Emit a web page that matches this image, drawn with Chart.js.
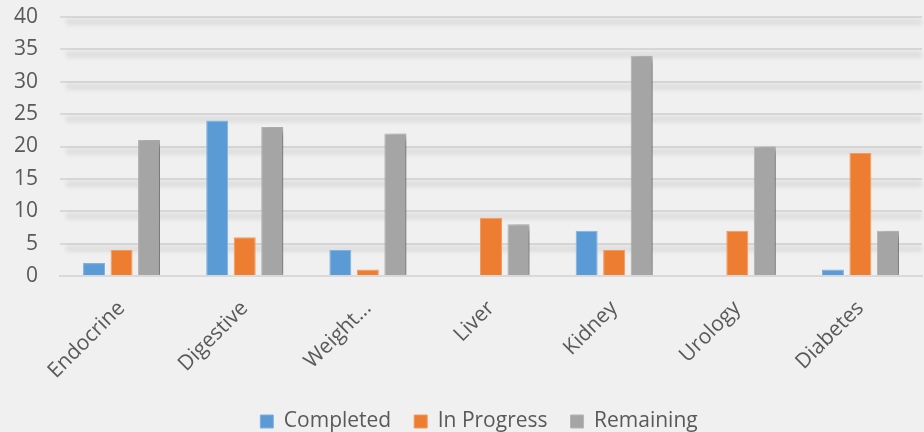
<!DOCTYPE html>
<html>
<head>
<meta charset="utf-8">
<script src="https://cdn.jsdelivr.net/npm/chart.js@4/dist/chart.umd.min.js"></script>
<style>
  html, body { margin: 0; padding: 0; background: #f0f0f0; }
  #wrap { width: 924px; height: 432px; }
</style>
</head>
<body>
<div id="wrap"><canvas id="chart"></canvas></div>
<script>
const categories = ['Endocrine', 'Digestive', 'Weight...', 'Liver', 'Kidney', 'Urology', 'Diabetes'];
const completed = [2, 24, 4, 0, 7, 0, 1];
const inProgress = [4, 6, 1, 9, 4, 7, 19];
const remaining = [21, 23, 22, 8, 34, 20, 7];
const yTicks = [0, 5, 10, 15, 20, 25, 30, 35, 40];

// soft shadow under each horizontal gridline, like the office chart style
const gridShadow = {
    id: 'gridShadow',
    beforeDatasetsDraw(chart) {
        const ctx = chart.ctx;
        const y = chart.scales.y;
        const area = chart.chartArea;
        ctx.save();
        ctx.strokeStyle = 'rgba(0,0,0,0.08)';
        ctx.lineWidth = 6;
        ctx.filter = 'blur(2px)';
        yTicks.forEach(function (t) {
            if (t === 0) return;
            const py = y.getPixelForValue(t) + 5;
            ctx.beginPath();
            ctx.moveTo(area.left + 6, py);
            ctx.lineTo(area.right, py);
            ctx.stroke();
        });
        ctx.restore();
    }
};

const barShadow = {
    id: 'barShadow',
    beforeDatasetDraw(chart, args) {
        if (args.index !== 2) return;
        const ctx = chart.ctx;
        ctx.save();
        ctx.shadowColor = 'rgba(0,0,0,0.4)';
        ctx.shadowBlur = 7;
        ctx.shadowOffsetX = 5;
        ctx.shadowOffsetY = 3;
    },
    afterDatasetDraw(chart, args) {
        if (args.index !== 2) return;
        chart.ctx.restore();
    }
};

// legend sits a little right of centre in the original
const legendNudge = {
    id: 'legendNudge',
    afterLayout(chart) {
        chart.legend.left += 18;
        chart.legend.right += 18;
    }
};

const fontFamily = '"Open Sans", "Liberation Sans", sans-serif';

new Chart(document.getElementById('chart').getContext('2d'), {
    type: 'bar',
    data: {
        labels: categories,
        datasets: [
            { label: 'Completed', data: completed, backgroundColor: '#5b9bd5', borderColor: '#7fb0e0', borderWidth: 1 },
            { label: 'In Progress', data: inProgress, backgroundColor: '#ed7d31', borderColor: '#f39a5c', borderWidth: 1 },
            { label: 'Remaining', data: remaining, backgroundColor: '#a5a5a5', borderColor: '#b5b5b5', borderWidth: 1 }
        ]
    },
    options: {
        responsive: true,
        maintainAspectRatio: false,
        animation: false,
        datasets: {
            bar: { categoryPercentage: 0.67, barPercentage: 0.8 }
        },
        layout: { padding: { left: 0, right: 2, top: 17, bottom: -10 } },
        plugins: {
            legend: {
                position: 'bottom',
                labels: {
                    boxWidth: 13,
                    boxHeight: 13,
                    color: '#595959',
                    font: { family: fontFamily, size: 21 },
                    padding: 23
                }
            },
            tooltip: { enabled: false }
        },
        scales: {
            x: {
                grid: { display: false },
                border: { display: true, color: '#d9d9d9', width: 2 },
                afterFit(scale) { scale.height = 112; },
                ticks: {
                    color: '#595959',
                    font: { family: fontFamily, size: 21 },
                    maxRotation: 45,
                    minRotation: 45,
                    autoSkip: false,
                    padding: 12
                }
            },
            y: {
                min: 0,
                max: 40,
                afterBuildTicks(axis) { axis.ticks = yTicks.map(v => ({ value: v })); },
                afterFit(scale) { scale.width = 60; scale.paddingTop = 0; scale.paddingBottom = 0; },
                grid: { color: '#d9d9d9', lineWidth: 2, drawTicks: false },
                border: { display: false },
                ticks: {
                    color: '#595959',
                    font: { family: fontFamily, size: 21 },
                    padding: 22
                }
            }
        }
    },
    plugins: [gridShadow, barShadow, legendNudge]
});
</script>
</body>
</html>
